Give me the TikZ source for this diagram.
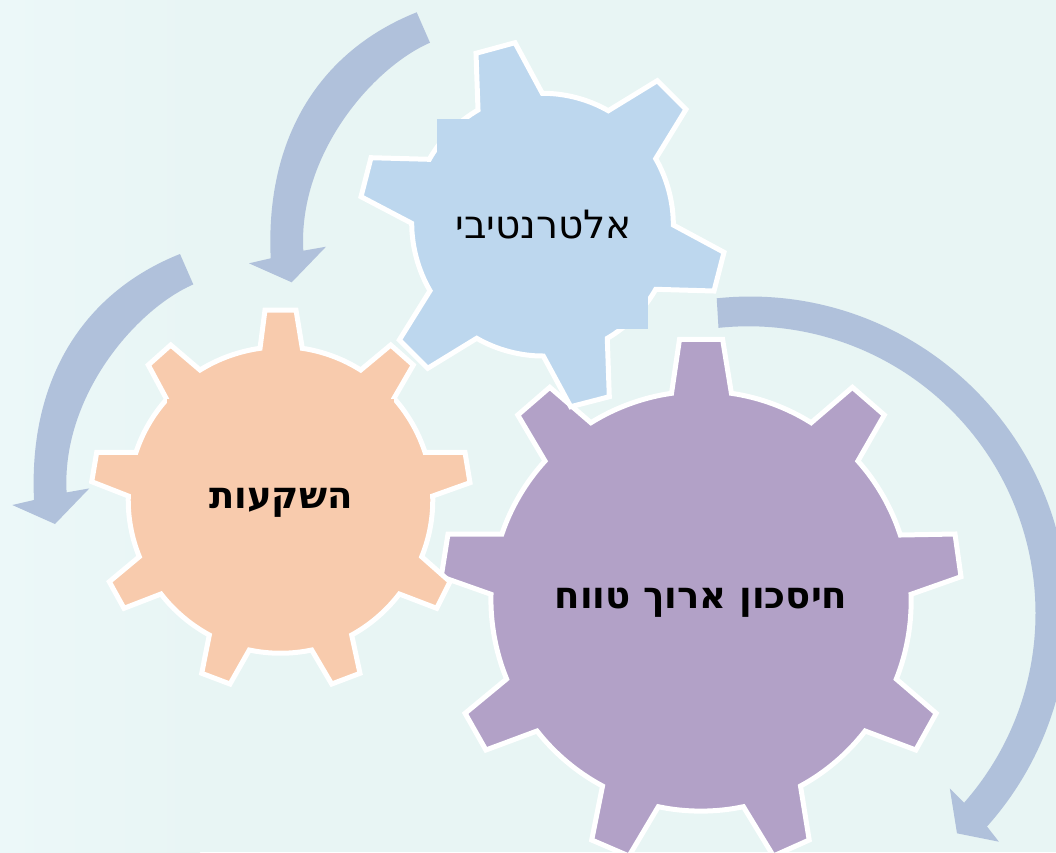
\documentclass[tikz,border=0pt]{standalone}
\usepackage{fontspec}
\newfontfamily\hebfont[Script=Hebrew]{DejaVu Sans}
\TeXXeTstate=1
\definecolor{bgmain}{HTML}{E8F5F4}
\definecolor{bgleft}{HTML}{ECF8F9}
\definecolor{arrowblue}{HTML}{B0C1DB}
\definecolor{gearblue}{HTML}{BDD7EE}
\definecolor{gearorange}{HTML}{F8CBAD}
\definecolor{gearpurple}{HTML}{B2A1C7}
\tikzset{
  gearline/.style={draw=white,line width=5pt,line join=miter,miter limit=10},
  rt/.style={bend left=12,looseness=.85},
  rb/.style={bend left=15.2,looseness=.85},
  bluearrow/.style={fill=arrowblue,draw=none},
  gearlabel/.style={font=\hebfont\fontsize{39}{46}\selectfont,text=black,inner sep=0pt,anchor=center},
  gearlabelbold/.style={gearlabel,font=\hebfont\bfseries\fontsize{37}{44}\selectfont},
}
\begin{document}
\begin{tikzpicture}[x=1pt,y=-1pt]
\useasboundingbox (0,0) rectangle (1056,852);
\clip (0,0) rectangle (1056,852);
\fill[bgmain] (0,0) rectangle (1056,852);
\shade[left color=bgleft,right color=bgmain,draw=none] (0,0) rectangle (200,852);

% block arrows
\fill[bluearrow] (416.7,12.3) .. controls (322,50) and (265,135) .. (270.7,258.3)
  -- (249,263.3) -- (291.7,282.3) -- (326,246.7) -- (303.3,250.7)
  .. controls (298,155) and (372,68) .. (430,42.7) -- cycle;
\begin{scope}[shift={(-236.7,241.7)}]
\fill[bluearrow] (416.7,12.3) .. controls (322,50) and (265,135) .. (270.7,258.3)
  -- (249,263.3) -- (291.7,282.3) -- (326,246.7) -- (303.3,250.7)
  .. controls (298,155) and (372,68) .. (430,42.7) -- cycle;
\end{scope}
\fill[bluearrow] (716.7,298.3) arc[start angle=-96,end angle=41.8,radius=318]
  -- (998.9,841.7) -- (957,833.3) -- (949.8,788.3) -- (964.1,802.7)
  arc[start angle=41.3,end angle=-96,radius=287] -- cycle;

% purple gear
\path[gearline,fill=gearpurple]
  (679.5,339.3) -- (722.6,339.3) -- (731.4,393.3) to[rt] (811.2,422.7)
  -- (852.4,387.3) -- (884.3,415) -- (857.9,461) to[rt] (900.3,535)
  -- (955,534) -- (961,576.7) -- (911,594.3) to[rt] (896.3,679)
  -- (936.2,713.3) -- (915.8,750) -- (865.1,731) to[rt] (800.5,786)
  -- (809.2,840) -- (773.4,856) -- (743.4,806.7) to[rt] (658.3,806.7)
  -- (629,856) -- (591.7,840) -- (602.5,786) to[rt] (537,731)
  -- (485.9,750) -- (465.1,713.3) -- (506.6,679) to[rt] (491,594.3)
  -- (441.2,576.7) -- (448,534) -- (501.9,534) to[rt] (545,461)
  -- (517.8,415) -- (549.8,387.3) -- (590.9,422.7) to[rt] (671.5,393.3) -- cycle;

% orange gear
\path[gearline,fill=gearorange]
  (265,310) -- (296,310) -- (302.3,348.3) to[rt] (360.7,370)
  -- (390.7,345) -- (413.3,365) -- (394,398.3) to[rt] (425,452.3)
  -- (465,452.3) -- (470,482.7) -- (432.7,496) to[rt] (421.7,556.7)
  -- (450,581.7) -- (436.7,608.3) -- (399.3,594) to[rt] (351.7,635)
  -- (360,673.3) -- (331.7,684) -- (311.7,650) to[rt] (249.3,650)
  -- (230,684) -- (201.7,673.3) -- (209.3,635) to[rt] (161,594)
  -- (124,608.3) -- (109.3,581.7) -- (139.3,556.7) to[rt] (128.3,496)
  -- (91.7,481.7) -- (96.7,452.3) -- (136,452.3) to[rt] (166.7,399.3)
  -- (148.3,365) -- (170.7,345) -- (200,370) to[rt] (260,348.3) -- cycle;
\fill[gearorange] (167,399) rectangle (394,590);

% blue gear
\path[gearline,fill=gearblue]
  (476,53.3) -- (515,42.7) -- (542.3,93.3) to[rb] (608.3,110.7)
  -- (657.3,80.7) -- (686,109.3) -- (655.7,158.7) to[rb] (673.3,225)
  -- (724,252.3) -- (714,291) -- (655.7,289.3) to[rb] (607.3,338.3)
  -- (609.3,396.7) -- (570.7,406.7) -- (543.3,356) to[rb] (476.7,338.3)
  -- (427.7,368.3) -- (399.3,340) -- (430,290.7) to[rb] (411.7,223.3)
  -- (361,196.7) -- (371,157.7) -- (429.3,159.3) to[rb] (478,110) -- cycle;
\fill[gearblue] (437.3,119) rectangle (648,329.3);

% labels
\node[gearlabel] (alt) at (543.5,224.5) {\beginR אלטרנטיבי\endR};
\node[gearlabelbold] (inv) at (281,503) {\beginR השקעות\endR};
\node[gearlabelbold] (sav) at (701,602.5) {\beginR חיסכון ארוך טווח\endR};
\end{tikzpicture}
\end{document}
